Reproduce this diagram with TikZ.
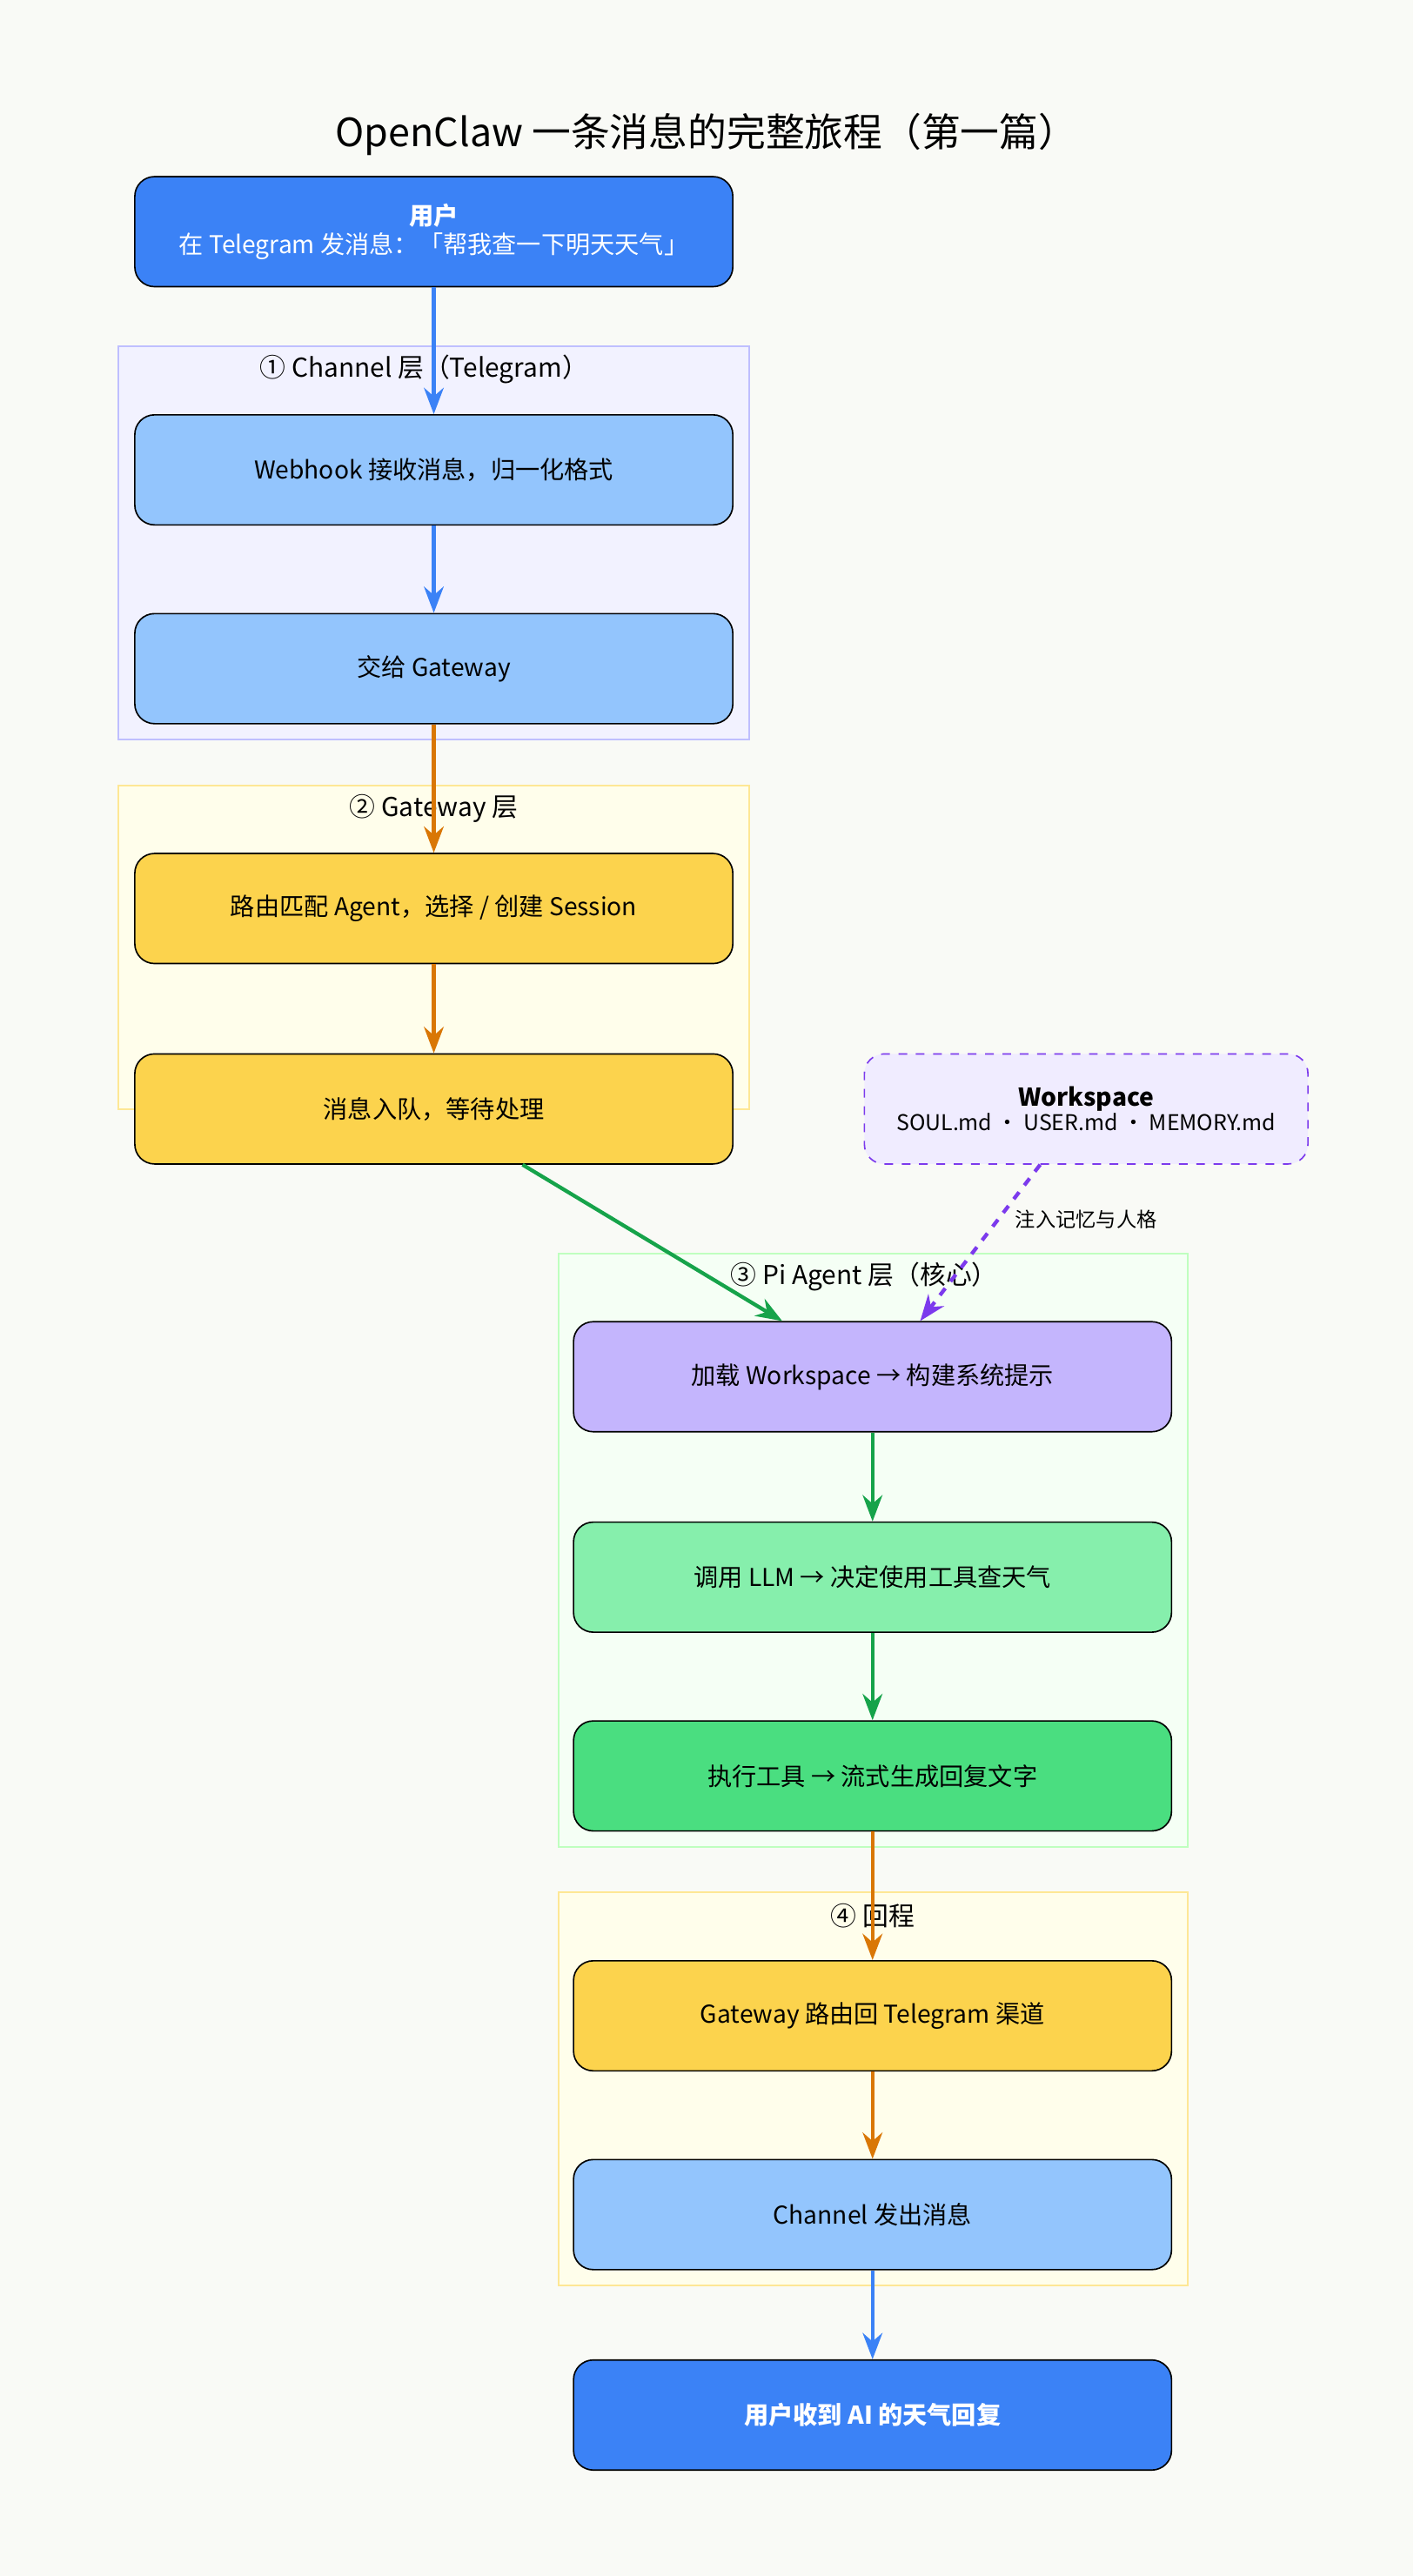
\documentclass[tikz,border=0pt]{standalone}
\usepackage{fontspec}
\setmainfont{Noto Sans CJK SC}
\usetikzlibrary{arrows.meta}
\definecolor{bgc}{HTML}{F9FAF6}
\definecolor{blueD}{HTML}{3B82F6}
\definecolor{blueL}{HTML}{93C5FD}
\definecolor{yel}{HTML}{FCD34D}
\definecolor{pur}{HTML}{C4B5FD}
\definecolor{grL}{HTML}{86EFAC}
\definecolor{grD}{HTML}{4ADE80}
\definecolor{orng}{HTML}{D97706}
\definecolor{grn}{HTML}{16A34A}
\definecolor{vio}{HTML}{7C3AED}
\tikzset{
  box/.style={draw=black, rounded corners=0.24cm, minimum width=7.28cm, minimum height=1.34cm,
    font=\fontsize{8.5}{10}\selectfont, align=center, line width=0.5pt},
  cluster/.style={line width=0.6pt},
  clabel/.style={font=\fontsize{9}{11}\selectfont},
  arr/.style={line width=1.3pt, -{Stealth[length=3.2mm,width=2.4mm]}},
}
\begin{document}
\begin{tikzpicture}[x=0.02cm,y=-0.02cm]
\useasboundingbox[fill=bgc] (0,0) rectangle (860,1568);
\node[font=\fontsize{13.5}{16}\selectfont] (title) at (430,82) {OpenClaw 一条消息的完整旅程（第一篇）};
% clusters
\draw[cluster, draw=blue!25, fill=blue!5] (72,211) rectangle (456,450);
\node[clabel] (c1) at (258,225) {① Channel 层（Telegram）};
\draw[cluster, draw=yellow!60!orange!40, fill=yellow!8] (72,478) rectangle (456,675);
\node[clabel] (c2) at (264,492) {② Gateway 层};
\draw[cluster, draw=green!25, fill=green!4] (340,763) rectangle (723,1124);
\node[clabel] (c3) at (526,777) {③ Pi Agent 层（核心）};
\draw[cluster, draw=yellow!60!orange!40, fill=yellow!8] (340,1152) rectangle (723,1391);
\node[clabel] (c4) at (531,1166) {④ 回程};
% nodes
\node[box, fill=blueD, text=white] (b1) at (264,141) {\textbf{用户}\\在 Telegram 发消息：「帮我查一下明天天气」};
\node[box, fill=blueL] (b2) at (264,286) {Webhook 接收消息，归一化格式};
\node[box, fill=blueL] (b3) at (264,407) {交给 Gateway};
\node[box, fill=yel] (b4) at (264,553) {路由匹配 Agent，选择 / 创建 Session};
\node[box, fill=yel] (b5) at (264,675) {消息入队，等待处理};
\node[box, fill=pur!25!white, draw=vio, dashed, minimum width=5.4cm, font=\fontsize{7.5}{8.5}\selectfont] (ws) at (661,675) {\textbf{\fontsize{8.5}{9}\selectfont Workspace}\\SOUL.md · USER.md · MEMORY.md};
\node[box, fill=pur] (b6) at (531,838) {加载 Workspace → 构建系统提示};
\node[box, fill=grL] (b7) at (531,960) {调用 LLM → 决定使用工具查天气};
\node[box, fill=grD] (b8) at (531,1081) {执行工具 → 流式生成回复文字};
\node[box, fill=yel] (b9) at (531,1227) {Gateway 路由回 Telegram 渠道};
\node[box, fill=blueL] (b10) at (531,1348) {Channel 发出消息};
\node[box, fill=blueD, text=white] (b11) at (531,1470) {\textbf{用户收到 AI 的天气回复}};
% edges
\draw[arr, blueD] (b1) -- (b2);
\draw[arr, blueD] (b2) -- (b3);
\draw[arr, orng] (b3) -- (b4);
\draw[arr, orng] (b4) -- (b5);
\draw[arr, grn] (b5.south) ++(54,0) coordinate (g0) -- ([xshift=-1.1cm]b6.north);
\draw[arr, vio, dashed] ([xshift=-0.56cm]ws.south) -- node[right, pos=0.35, text=black, font=\fontsize{7}{8}\selectfont, xshift=2pt] {注入记忆与人格} ([xshift=0.58cm]b6.north);
\draw[arr, grn] (b6) -- (b7);
\draw[arr, grn] (b7) -- (b8);
\draw[arr, orng] (b8) -- (b9);
\draw[arr, orng] (b9) -- (b10);
\draw[arr, blueD] (b10) -- (b11);
\end{tikzpicture}
\end{document}
